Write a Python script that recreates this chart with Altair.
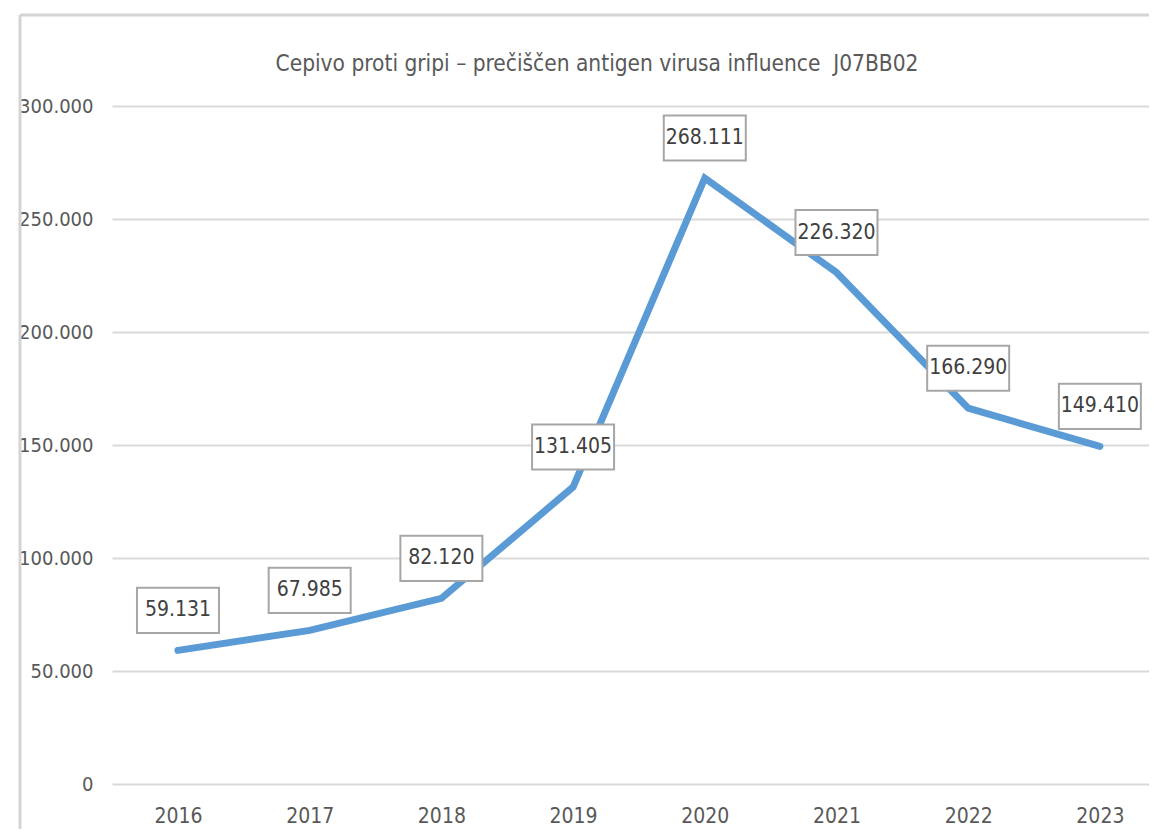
import altair as alt
import pandas as pd

years = [2016, 2017, 2018, 2019, 2020, 2021, 2022, 2023]
values = [59131, 67985, 82120, 131405, 268111, 226320, 166290, 149410]
y_ticks = [0, 50000, 100000, 150000, 200000, 250000, 300000]
title_text = ["Cepivo proti gripi – prečiščen antigen virusa influence\u00a0 J07BB02"]

FONT = "DejaVu Sans Condensed, Liberation Sans, sans-serif"
W, H = 1037, 678

df = pd.DataFrame({"year": years, "value": values})

x_enc = alt.X(
    "year:Q",
    scale=alt.Scale(domain=[2015.499, 2023.373], nice=False, zero=False),
    axis=alt.Axis(title=None, values=years, format="d", labelAngle=0, ticks=False,
                  domain=False, grid=False, labelFont=FONT, labelFontSize=21,
                  labelColor="#595959", labelPadding=21, labelFlush=False),
)
y_enc = alt.Y(
    "value:Q",
    scale=alt.Scale(domain=[0, 300000], nice=False),
    axis=alt.Axis(title=None, values=y_ticks, ticks=False, domain=False,
                  grid=True, gridColor="#d9d9d9", gridWidth=2,
                  labelFont=FONT, labelFontSize=20, labelColor="#595959",
                  labelPadding=19,
                  labelExpr="replace(format(datum.value, ','), ',', '.')"),
)

base = alt.Chart(df).transform_calculate(
    label="replace(format(datum.value, ','), ',', '.')"
)

line = base.mark_line(color="#5B9BD5", strokeWidth=7, strokeCap="round",
                      strokeJoin="miter").encode(x=x_enc, y=y_enc)

boxes = base.mark_point(
    shape="M-1,-0.55L1,-0.55L1,0.55L-1,0.55Z",
    size=82 * 82, filled=True, fill="white", stroke="#a6a6a6",
    strokeWidth=2, opacity=1, yOffset=-40,
).encode(x=x_enc, y=y_enc)

labels = base.mark_text(
    font=FONT, fontSize=21, color="#404040", yOffset=-40, baseline="middle"
).encode(x=x_enc, y=y_enc, text="label:N")

frame_df = pd.DataFrame({"a": [0]})
frame_top = alt.Chart(frame_df).mark_rule(color="#d4d4d4", strokeWidth=3).encode(
    x=alt.value(-92), x2=alt.value(W + 10), y=alt.value(-91))
frame_left = alt.Chart(frame_df).mark_rule(color="#d4d4d4", strokeWidth=3).encode(
    x=alt.value(-92), y=alt.value(-91), y2=alt.value(H + 60))

title = alt.Chart(pd.DataFrame({"t": title_text})).mark_text(
    font=FONT, fontSize=22.5, color="#595959", align="center", baseline="middle"
).encode(x=alt.value(485), y=alt.value(-42), text="t:N")

chart = alt.layer(frame_top, frame_left, line, boxes, labels, title).properties(
    width=W, height=H,
    autosize=alt.AutoSizeParams(type="none"),
    padding={"left": 104, "top": 98, "right": 0, "bottom": 45},
    background="white",
).configure_view(stroke=None)

chart.save("out.html", embed_options={"renderer": "svg", "actions": False})
